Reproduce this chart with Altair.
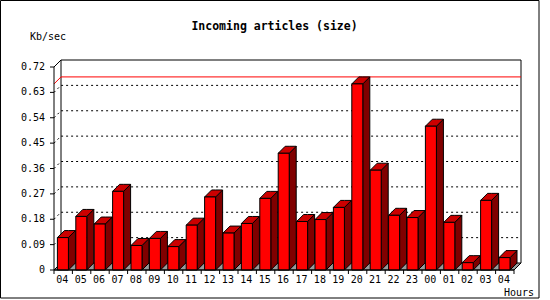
import altair as alt
import pandas as pd

# ---- data ----
hours = ["04", "05", "06", "07", "08", "09", "10", "11", "12", "13", "14", "15", "16",
         "17", "18", "19", "20", "21", "22", "23", "00", "01", "02", "03", "04"]
values = [0.115, 0.190, 0.163, 0.279, 0.087, 0.112, 0.083, 0.159, 0.259, 0.131, 0.165,
          0.254, 0.414, 0.172, 0.179, 0.222, 0.660, 0.354, 0.194, 0.186, 0.510, 0.169,
          0.026, 0.247, 0.044]
y_ticks = [0, 0.09, 0.18, 0.27, 0.36, 0.45, 0.54, 0.63, 0.72]
y_tick_labels = ["0", "0.09", "0.18", "0.27", "0.36", "0.45", "0.54", "0.63", "0.72"]
title_text = "Incoming articles (size)"
y_title = "Kb/sec"
x_title = "Hours"

# ---- geometry (in data units) ----
W, H = 460, 203
N = len(values)
YMAX = 0.72
DX = 7 / (W / N)          # 3-D depth, x data units
DY = 7 / (H / YMAX)       # 3-D depth, y data units
L_OFF, R_OFF = 0.185, 0.783
FONT = "DejaVu Sans Mono"

xs = alt.Scale(domain=[0, N], nice=False, zero=False)
ys = alt.Scale(domain=[0, YMAX], nice=False, zero=False)

front = pd.DataFrame({
    "i": range(N), "x1": [i + L_OFF for i in range(N)],
    "x2": [i + R_OFF for i in range(N)], "v": values, "hour": hours,
    "lx": [i + 0.45 for i in range(N)],
})
yt = pd.DataFrame({"t": y_ticks, "lab": y_tick_labels, "x0": [0] * len(y_ticks)})
xt = pd.DataFrame({"k": list(range(N + 1)), "y0": [0] * (N + 1)})

side_rows, top_rows = [], []
for i, v in enumerate(values):
    xl, xr = i + L_OFF, i + R_OFF
    side_rows += [dict(i=i, x=xr, y=v, y2=0), dict(i=i, x=xr + DX, y=v + DY, y2=DY)]
    top_rows += [dict(i=i, x=xl, y=v, y2=v), dict(i=i, x=xl + DX, y=v + DY, y2=v),
                 dict(i=i, x=xr, y=v + DY, y2=v), dict(i=i, x=xr + DX, y=v + DY, y2=v + DY)]
side = pd.DataFrame(side_rows)
top = pd.DataFrame(top_rows)

floor = pd.DataFrame([dict(x=0, y=0, y2=0), dict(x=DX, y=DY, y2=0),
                      dict(x=N, y=DY, y2=0), dict(x=N + DX, y=DY, y2=DY)])

grid_rows = []
for t in y_ticks[1:-1]:
    grid_rows += [dict(t=t, o=0, x=0, y=t), dict(t=t, o=1, x=DX, y=t + DY),
                  dict(t=t, o=2, x=N + DX, y=t + DY)]
grid = pd.DataFrame(grid_rows)

mx = max(values)
maxline = pd.DataFrame([dict(o=0, x=0, y=mx), dict(o=1, x=DX, y=mx + DY),
                        dict(o=2, x=N + DX, y=mx + DY)])

wall = pd.DataFrame([dict(o=0, x=DX, y=DY), dict(o=1, x=DX, y=YMAX + DY),
                     dict(o=2, x=N + DX, y=YMAX + DY), dict(o=3, x=N + DX, y=DY)])
topdiag = pd.DataFrame([dict(o=0, x=0, y=YMAX), dict(o=1, x=DX, y=YMAX + DY)])
front_axes = pd.DataFrame([dict(o=0, x=0, y=YMAX), dict(o=1, x=0, y=0),
                           dict(o=2, x=N, y=0)])

X = lambda f: alt.X(f, type="quantitative", scale=xs, axis=None)
Y = lambda f: alt.Y(f, type="quantitative", scale=ys, axis=None)
one = pd.DataFrame({"a": [0]})

border = alt.Chart(one).mark_rect(
    filled=False, stroke="black", strokeWidth=1
).encode(x=alt.value(-53.5), x2=alt.value(485), y=alt.value(-66.5), y2=alt.value(231))

wall_l = alt.Chart(wall).mark_line(color="black", strokeWidth=1).encode(
    x=X("x"), y=Y("y"), order="o:O")
topdiag_l = alt.Chart(topdiag).mark_line(color="black", strokeWidth=1).encode(
    x=X("x"), y=Y("y"), order="o:O")
grid_l = alt.Chart(grid).mark_line(color="black", strokeWidth=1, strokeDash=[2, 3]).encode(
    x=X("x"), y=Y("y"), detail="t:N", order="o:O")
max_l = alt.Chart(maxline).mark_line(color="#ff0000", strokeWidth=1).encode(
    x=X("x"), y=Y("y"), order="o:O")
floor_l = alt.Chart(floor).mark_area(fill="#999999", stroke="black", strokeWidth=1).encode(
    x=X("x"), y=Y("y"), y2="y2")

side_l = alt.Chart(side).mark_area(fill="#800000", stroke="black", strokeWidth=1).encode(
    x=X("x"), y=Y("y"), y2="y2", detail="i:N")
top_l = alt.Chart(top).mark_area(fill="#cc0000", stroke="black", strokeWidth=1).encode(
    x=X("x"), y=Y("y"), y2="y2", detail="i:N")
front_l = alt.Chart(front).mark_rect(fill="#ff0000", stroke="black", strokeWidth=1).encode(
    x=X("x1"), x2="x2", y=Y("v"), y2=alt.datum(0))

# front axes (domain lines + ticks)
axes_l = alt.Chart(front_axes).mark_line(color="black", strokeWidth=1).encode(
    x=X("x"), y=Y("y"), order="o:O")
yticks_l = alt.Chart(yt).mark_rule(color="black", strokeWidth=1, xOffset=-4).encode(
    x=X("x0"), x2="x0", y=Y("t"))
xticks_l = alt.Chart(xt).mark_rule(color="black", strokeWidth=1, y2Offset=4).encode(
    x=X("k"), y=Y("y0"), y2="y0")

ylabels_l = alt.Chart(yt).mark_text(font=FONT, fontSize=10, color="black", align="right",
                                    baseline="middle", dx=-9).encode(
    x=X("x0"), y=Y("t"), text="lab:N")
labels_l = alt.Chart(front).mark_text(font=FONT, fontSize=10, color="black",
                                      baseline="middle", align="center", dy=10).encode(
    x=X("lx"), y=alt.datum(0), text="hour:N")
title_l = alt.Chart(one).mark_text(
    text=title_text, font=FONT, fontSize=11.5, fontWeight="bold", color="black",
    align="center", baseline="middle"
).encode(x=alt.value(220.5), y=alt.value(-40.5))
ytitle_l = alt.Chart(one).mark_text(
    text=y_title, font=FONT, fontSize=10, color="black", align="left", baseline="middle"
).encode(x=alt.value(-24), y=alt.value(-30.3))
xtitle_l = alt.Chart(one).mark_text(
    text=x_title, font=FONT, fontSize=10, color="black", align="center", baseline="middle"
).encode(x=alt.value(465), y=alt.value(225.5))

chart = alt.layer(
    border, wall_l, topdiag_l, grid_l, max_l, floor_l,
    side_l, top_l, front_l, axes_l, yticks_l, xticks_l,
    ylabels_l, labels_l, title_l, ytitle_l, xtitle_l
).properties(
    width=W, height=H,
    autosize=alt.AutoSizeParams(type="none"),
    padding={"left": 54, "top": 67, "right": 36, "bottom": 30},
    background="white",
).configure_view(stroke=None)

chart.save("out.html", embed_options={"renderer": "svg", "actions": False})
